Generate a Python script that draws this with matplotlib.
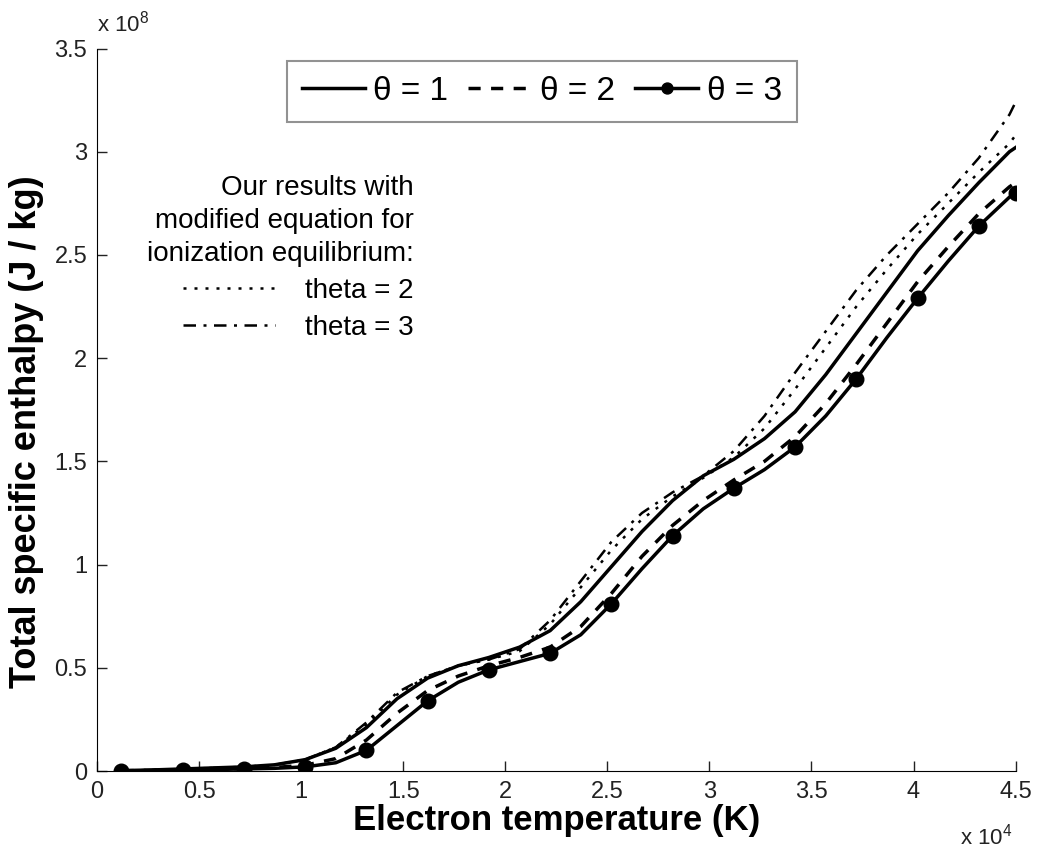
import numpy as np
import matplotlib
matplotlib.use('Agg')
from matplotlib import pyplot as plt

matplotlib.rcParams['font.family'] = ['Liberation Sans', 'DejaVu Sans']
matplotlib.rcParams['mathtext.default'] = 'regular'

# electron temperature, in units of 1e4 K
temp = [0.12, 0.27, 0.42, 0.57, 0.72, 0.87, 1.02, 1.17, 1.32, 1.47, 1.62, 1.77,
        1.92, 2.07, 2.22, 2.37, 2.52, 2.67, 2.82, 2.97, 3.12, 3.27, 3.42, 3.57,
        3.72, 3.87, 4.02, 4.17, 4.32, 4.47, 4.50]

# total specific enthalpy, in units of 1e8 J/kg
h_theta1 = [0.002, 0.005, 0.010, 0.015, 0.020, 0.030, 0.055, 0.110, 0.210, 0.350,
            0.450, 0.510, 0.550, 0.600, 0.680, 0.820, 0.990, 1.160, 1.310, 1.430,
            1.510, 1.610, 1.740, 1.920, 2.120, 2.320, 2.520, 2.690, 2.850, 3.000, 3.020]
h_theta2 = [0.001, 0.003, 0.006, 0.009, 0.012, 0.017, 0.028, 0.060, 0.150, 0.280,
            0.390, 0.460, 0.510, 0.550, 0.600, 0.700, 0.860, 1.040, 1.190, 1.310,
            1.410, 1.500, 1.620, 1.780, 1.970, 2.170, 2.370, 2.540, 2.700, 2.830, 2.850]
h_theta3 = [0.000, 0.002, 0.005, 0.007, 0.010, 0.013, 0.020, 0.040, 0.100, 0.220,
            0.340, 0.430, 0.490, 0.530, 0.570, 0.660, 0.810, 0.980, 1.140, 1.270,
            1.370, 1.460, 1.570, 1.720, 1.900, 2.100, 2.290, 2.470, 2.640, 2.780, 2.800]
h_mod_theta2 = [0.002, 0.005, 0.010, 0.015, 0.020, 0.030, 0.055, 0.115, 0.225, 0.370,
                0.460, 0.510, 0.540, 0.580, 0.710, 0.890, 1.070, 1.220, 1.330, 1.420,
                1.520, 1.660, 1.850, 2.050, 2.250, 2.430, 2.600, 2.750, 2.900, 3.040, 3.080]
h_mod_theta3 = [0.002, 0.005, 0.010, 0.015, 0.020, 0.030, 0.055, 0.115, 0.235, 0.380,
                0.460, 0.510, 0.540, 0.590, 0.730, 0.920, 1.110, 1.250, 1.350, 1.430,
                1.550, 1.720, 1.930, 2.130, 2.330, 2.500, 2.650, 2.800, 2.970, 3.180, 3.240]

fig = plt.figure(figsize=(10.38, 8.48), dpi=100)
ax = fig.add_axes([0.0934, 0.0908, 0.8850, 0.8520])

l_mod2, = ax.plot(temp, h_mod_theta2, color='k', lw=1.8, dashes=(1.2, 3.2))
l_mod3, = ax.plot(temp, h_mod_theta3, color='k', lw=1.8, dashes=(5, 3, 1.2, 3))
l1, = ax.plot(temp, h_theta1, color='k', lw=2.5)
l2, = ax.plot(temp, h_theta2, color='k', lw=2.5, dashes=(3.5, 3))
l3, = ax.plot(temp, h_theta3, color='k', lw=2.5, marker='o', ms=10.5, markevery=2)

ax.set_xlim(0, 4.5)
ax.set_ylim(0, 3.5)
ax.set_xticks(np.arange(0, 4.51, 0.5))
ax.set_yticks(np.arange(0, 3.51, 0.5))
ax.set_xticklabels(['0', '0.5', '1', '1.5', '2', '2.5', '3', '3.5', '4', '4.5'])
ax.set_yticklabels(['0', '0.5', '1', '1.5', '2', '2.5', '3', '3.5'])
ax.spines['top'].set_visible(False)
ax.spines['right'].set_visible(False)
ax.tick_params(direction='in', length=7, width=1, labelsize=17, colors='#222222', pad=7)

ax.set_xlabel('Electron temperature (K)', fontsize=25, fontweight='bold', labelpad=1)
ax.set_ylabel('Total specific enthalpy (J / kg)', fontsize=26, fontweight='bold')
ax.yaxis.set_label_coords(-0.058, 0.47)

ax.annotate(r'x 10$^{8}$', xy=(0, 1), xycoords='axes fraction', xytext=(0, 9),
            textcoords='offset points', fontsize=16, ha='left', va='bottom', color='#222222')
ax.annotate(r'x 10$^{4}$', xy=(1, 0), xycoords='axes fraction', xytext=(-2, -38),
            textcoords='offset points', fontsize=16, ha='right', va='top', color='#222222')

leg1 = ax.legend([l1, l2, l3], ['θ = 1', 'θ = 2', 'θ = 3'], loc='upper center',
                 bbox_to_anchor=(0.484, 0.983), ncol=3, fontsize=24, frameon=True,
                 fancybox=False, edgecolor='#777777', handlelength=1.9,
                 handletextpad=0.25, columnspacing=0.6, borderpad=0.45,
                 borderaxespad=0, markerscale=0.75)
leg1.get_frame().set_linewidth(1.5)
ax.add_artist(leg1)

leg2 = ax.legend([l_mod2, l_mod3], ['theta = 2', 'theta = 3'], loc='upper right',
                 bbox_to_anchor=(0.345, 0.825), frameon=False, fontsize=20,
                 title='Our results with\nmodified equation for\nionization equilibrium:',
                 title_fontsize=20, alignment='right', handlelength=3.3,
                 handletextpad=1.1, labelspacing=0.4, borderaxespad=0, borderpad=0)
leg2.get_title().set_multialignment('right')
leg2.get_title().set_linespacing(1.35)

fig.savefig('out.png', dpi=100)
